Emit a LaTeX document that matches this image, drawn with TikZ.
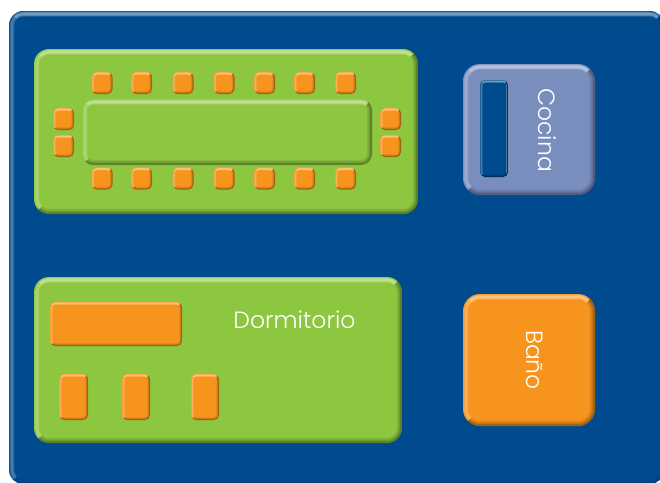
\documentclass[tikz,border=0pt]{standalone}
\usepackage{fontspec}
\setmainfont{Poppins}[UprightFont=* Light]
\definecolor{navy}{HTML}{004B8D}
\definecolor{leaf}{HTML}{8DC63F}
\definecolor{tang}{HTML}{F7941D}
\definecolor{peri}{HTML}{7A8EBD}
\tikzset{x=1pt,y=-1pt,
  lbl/.style={text=white,font=\fontsize{23.5}{28}\selectfont,inner sep=0pt}}
\def\shk{1}
% x0 y0 x1 y1 r fill bevel
\newcommand{\bev}[7]{%
 \begin{scope}
  \pgfmathsetmacro\xa{#1+#5}\pgfmathsetmacro\xb{#3-#5}
  \pgfmathsetmacro\ya{#2+#5}\pgfmathsetmacro\yb{#4-#5}
  \pgfmathsetmacro\dd{#7*0.5}
  \pgfmathsetmacro\rr{#5-\dd}
  \path[clip,rounded corners=#5pt] (#1,#2) rectangle (#3,#4);
  \fill[#6] (#1-1,#2-1) rectangle (#3+1,#4+1);
  % top highlight
  \begin{scope}
   \clip (#1,#2) -- (#3,#2) -- (\xb,\ya) -- (\xa,\ya) -- cycle;
   \foreach \w/\o in {.35/.20,.6/.20,.85/.15}
    \draw[white,opacity=\o,line width=#7*\w pt,rounded corners=\rr pt]
      (#1+\dd,#2+\dd) rectangle (#3-\dd,#4-\dd);
  \end{scope}
  % left highlight
  \begin{scope}
   \clip (#1,#2) -- (\xa,\ya) -- (\xa,\yb) -- (#1,#4) -- cycle;
   \foreach \w/\o in {.35/.12,.6/.10,.85/.08}
    \draw[white,opacity=\o,line width=#7*\w pt,rounded corners=\rr pt]
      (#1+\dd,#2+\dd) rectangle (#3-\dd,#4-\dd);
  \end{scope}
  % right and bottom shade
  \begin{scope}
   \clip (#3,#2) -- (#3,#4) -- (#1,#4) -- (\xa,\yb) -- (\xb,\yb) -- (\xb,\ya) -- cycle;
   \foreach \w/\o in {.6/.16,1.1/.12,1.7/.09}{
    \pgfmathsetmacro\oo{\o*\shk}
    \draw[black,opacity=\oo,line width=#7*\w pt,rounded corners=#5pt]
      (#1,#2) rectangle (#3,#4);}
  \end{scope}
 \end{scope}}
\begin{document}
\begin{tikzpicture}
\useasboundingbox (0,0) rectangle (660,482);
{\def\shk{0.25}\bev{9}{11}{664}{484}{14}{navy}{6}}
% dining room
\bev{34}{49}{418}{214}{15}{leaf}{6}
\bev{82}{99}{372}{165}{11}{leaf}{6}
\foreach \x in {91.5,131,172.5,213.5,254,294,335}{
  \bev{\x}{72}{\x+21}{94}{5}{tang}{3}
  \bev{\x}{167.5}{\x+21}{189.5}{5}{tang}{3}
}
\foreach \y in {108,135}{
  \bev{53}{\y}{74}{\y+22}{5}{tang}{3}
  \bev{380}{\y}{401}{\y+22}{5}{tang}{3}
}
% kitchen
\bev{463}{64}{595}{195}{17}{peri}{6}
\bev{480}{80}{508}{177}{5}{navy}{3}
\draw[white,opacity=.3,line width=1.2pt] (506.5,84) -- (506.5,173);
\node[lbl,rotate=-90] (cocina) at (547.5,130) {Cocina};
% bedroom
\bev{34}{277}{402}{443}{15}{leaf}{6}
\bev{50}{302}{182}{346}{5}{tang}{3}
\bev{59}{374}{88}{420}{5}{tang}{3}
\bev{122}{374}{150}{420}{5}{tang}{3}
\bev{191}{374}{219}{420}{5}{tang}{3}
\node[lbl] (dorm) at (294.5,319.5) {Dormitorio};
% bath
\bev{463}{294}{595}{426}{17}{tang}{6}
\node[lbl,rotate=-90] (bano) at (535,360) {Baño};
\end{tikzpicture}
\end{document}
